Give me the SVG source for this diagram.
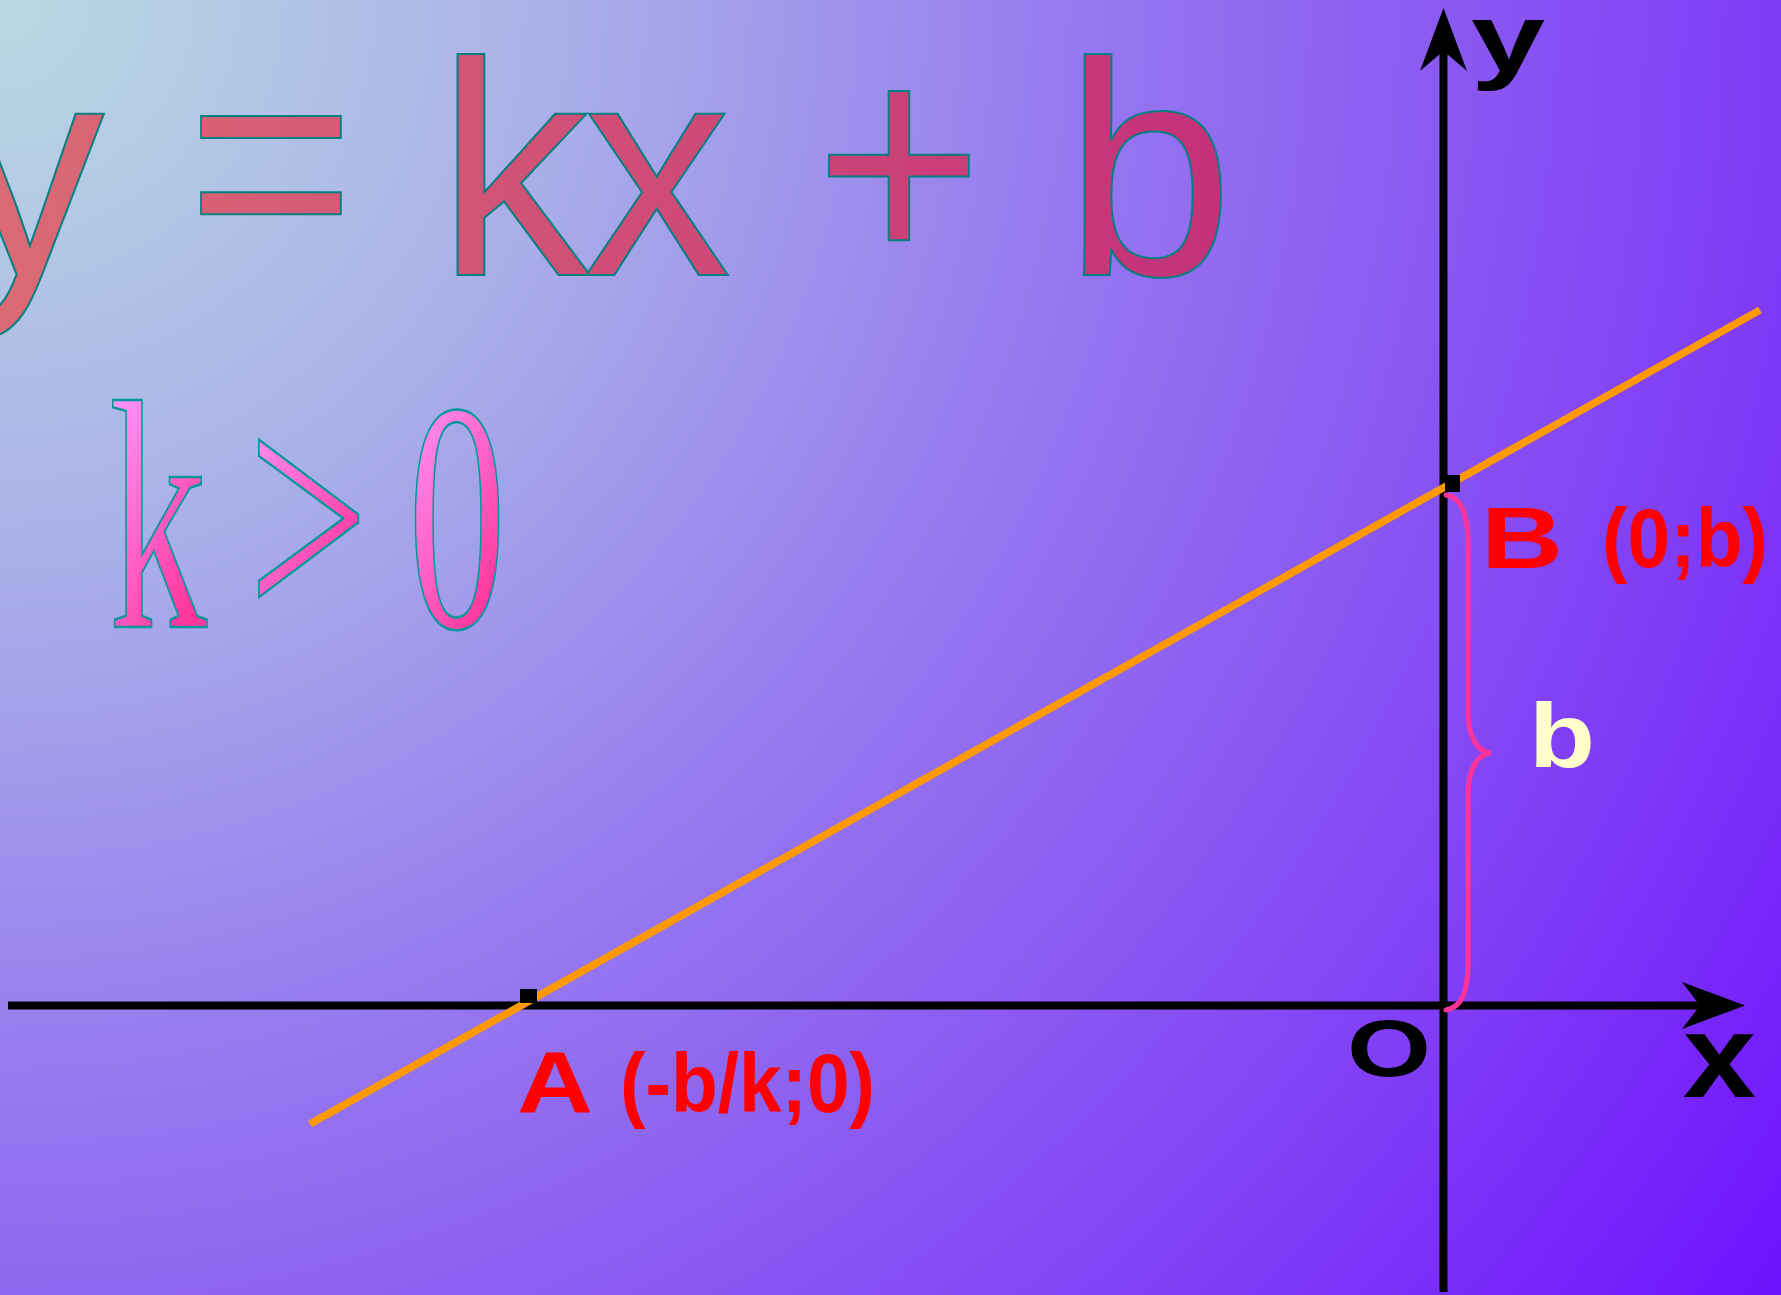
<svg xmlns="http://www.w3.org/2000/svg" width="1781" height="1295" viewBox="0 0 1781 1295">
  <defs>
    <radialGradient id="bg" gradientUnits="userSpaceOnUse" cx="0" cy="0" r="2202">
      <stop offset="0" stop-color="#B9DAE2"/>
      <stop offset="0.26" stop-color="#A9AEE8"/>
      <stop offset="0.5" stop-color="#9577EF"/>
      <stop offset="0.59" stop-color="#8F66F0"/>
      <stop offset="0.81" stop-color="#7F3BF6"/>
      <stop offset="1" stop-color="#6E12FD"/>
    </radialGradient>
    <linearGradient id="titleFill" gradientUnits="userSpaceOnUse" x1="0" y1="0" x2="1220" y2="0">
      <stop offset="0" stop-color="#DB6A74"/>
      <stop offset="1" stop-color="#C4317A"/>
    </linearGradient>
    <linearGradient id="ineqFill" gradientUnits="userSpaceOnUse" x1="112" y1="400" x2="300" y2="560" spreadMethod="reflect">
      <stop offset="0" stop-color="#FF99FF"/>
      <stop offset="1" stop-color="#FF3399"/>
    </linearGradient>
    <style>
      .title { font-family: "Liberation Sans", Arial, sans-serif; font-size: 305px; fill: url(#titleFill); stroke: #008080; stroke-width: 2; }
      .ineq { font-family: "Liberation Serif", "Times New Roman", serif; font-size: 327px; fill: url(#ineqFill); stroke: #009999; stroke-width: 2.5; }
      .lbl { font-family: "Liberation Sans", Arial, sans-serif; font-weight: bold; }
      .red { fill: #FF0000; }
      .blk { fill: #000000; }
      .axis { stroke: #000000; stroke-width: 8; fill: none; }
      .graph { stroke: #FF9900; stroke-width: 7.5; fill: none; }
      .brace { stroke: #FF3399; stroke-width: 5; fill: none; stroke-linecap: round; }
    </style>
  </defs>

  <rect x="0" y="0" width="1781" height="1295" fill="url(#bg)"/>

  <g id="connectors">
    <line class="axis" x1="8" y1="1005.5" x2="1705" y2="1005.5"/>
    <polygon class="blk" points="1745,1005.5 1682,982 1700,1005.5 1682,1029"/>
    <line class="axis" x1="1443.5" y1="1292" x2="1443.5" y2="50"/>
    <polygon class="blk" points="1443.5,8 1467,71 1443.5,51 1420,71"/>
    <line class="graph" x1="310" y1="1124" x2="1760" y2="310"/>
    <path class="brace" d="M1446,495 C1462,497 1468,515 1468,545 L1468,712 C1468,738 1478,752 1491,753 C1478,754 1468,768 1468,796 L1468,962 C1468,992 1462,1007 1446,1010"/>
  </g>

  <g id="title">
    <text class="title" x="-48" y="275">y</text>
    <text class="title" x="187" y="265.5" textLength="168" lengthAdjust="spacingAndGlyphs">=</text>
    <text class="title" x="437" y="275">k</text>
    <text class="title" x="583" y="275" textLength="148" lengthAdjust="spacingAndGlyphs">x</text>
    <text class="title" x="815" y="267" textLength="168" lengthAdjust="spacingAndGlyphs">+</text>
    <text class="title" x="1064" y="275">b</text>
  </g>

  <g id="inequality">
    <text class="ineq" transform="translate(109,627) scale(0.6,1)" x="0" y="0">k</text>
    <text class="ineq" transform="translate(248,627) scale(0.654,1)" x="0" y="0">&gt;</text>
    <text class="ineq" transform="translate(408,627) scale(0.6,1)" x="0" y="0">0</text>
  </g>

  <g id="axis-y-label">
    <text class="lbl blk" x="1471" y="71" font-size="96" textLength="74" lengthAdjust="spacingAndGlyphs">y</text>
  </g>
  <g id="axis-x-label">
    <text class="lbl blk" x="1683" y="1097" font-size="119" textLength="73" lengthAdjust="spacingAndGlyphs">x</text>
  </g>
  <g id="origin-label">
    <text class="lbl blk" x="1347" y="1076" font-size="80" textLength="84" lengthAdjust="spacingAndGlyphs">O</text>
  </g>

  <g id="point-A">
    <rect class="blk" x="520" y="989" width="17" height="14"/>
    <text class="lbl red" x="517" y="1112" font-size="87" textLength="76" lengthAdjust="spacingAndGlyphs">A</text>
    <text class="lbl red" x="620" y="1112" font-size="84" textLength="255" lengthAdjust="spacingAndGlyphs">(-b/k;0)</text>
  </g>

  <g id="point-B">
    <rect class="blk" x="1445" y="475" width="15" height="17"/>
    <text class="lbl red" x="1481" y="568" font-size="88" textLength="82" lengthAdjust="spacingAndGlyphs">B</text>
    <text class="lbl red" x="1602" y="567" font-size="84" textLength="166" lengthAdjust="spacingAndGlyphs">(0;b)</text>
  </g>

  <g id="b-label">
    <text class="lbl" fill="#FFFFCC" x="1529" y="767" font-size="91" textLength="66" lengthAdjust="spacingAndGlyphs">b</text>
  </g>
</svg>
